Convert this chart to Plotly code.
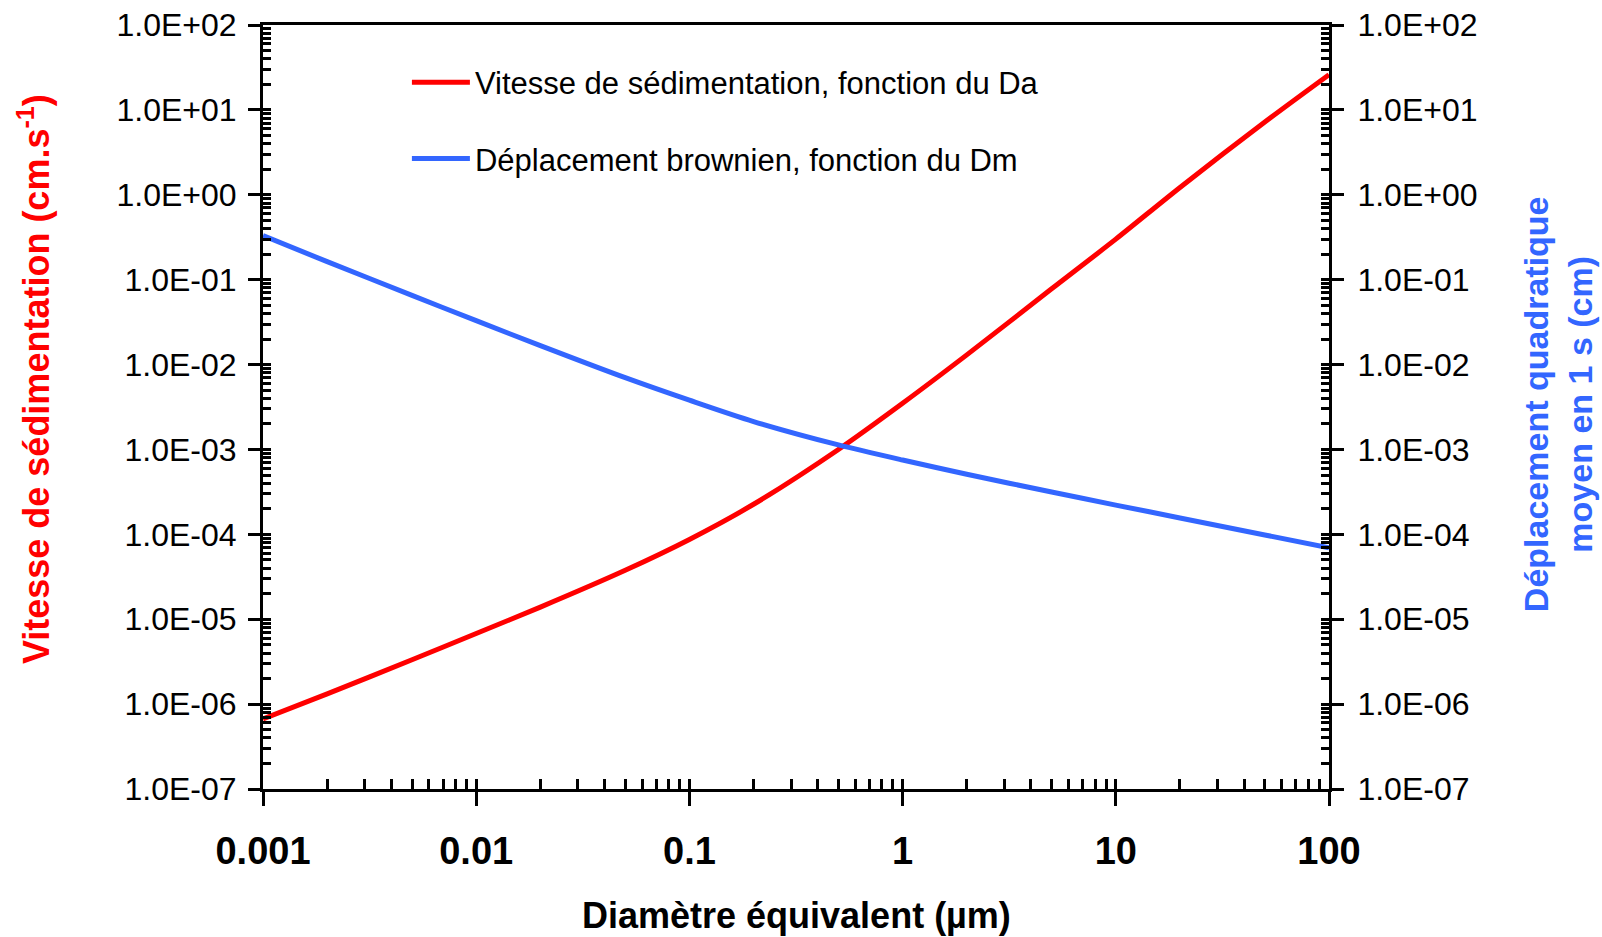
import plotly.graph_objects as go

# Data
diametre = [0.001, 0.002, 0.005, 0.01, 0.02, 0.05, 0.1, 0.2, 0.5, 1, 2, 5, 10, 20, 50, 100]
vitesse = [6.7e-7, 1.32e-6, 3.33e-6, 6.8e-6, 1.39e-5, 3.77e-5, 8.7e-5, 2.26e-4, 1.0e-3,
           3.5e-3, 1.3e-2, 7.8e-2, 0.30, 1.22, 7.2, 26]
deplacement = [0.33, 0.163, 0.0653, 0.0329, 0.0167, 0.0070, 0.0038, 0.00213, 0.00113,
               0.00075, 0.00051, 0.000315, 0.000221, 0.000156, 0.0000984, 0.0000694]

x_tickvals = [0.001, 0.01, 0.1, 1, 10, 100]
x_ticktext = ["0.001", "0.01", "0.1", "1", "10", "100"]
y_tickvals = [1e-7, 1e-6, 1e-5, 1e-4, 1e-3, 1e-2, 1e-1, 1e0, 1e1, 1e2]
y_ticktext = ["1.0E-07", "1.0E-06", "1.0E-05", "1.0E-04", "1.0E-03",
              "1.0E-02", "1.0E-01", "1.0E+00", "1.0E+01", "1.0E+02"]

x_minor = [m * 10 ** e for e in range(-3, 2) for m in range(2, 10)]
y_minor = [m * 10 ** e for e in range(-7, 2) for m in range(2, 10)]

RED = "#FF0000"
BLUE = "#3366FF"
FONT = "Liberation Sans, Arial, sans-serif"

fig = go.Figure()
fig.add_trace(go.Scatter(x=diametre, y=vitesse, mode="lines",
                         line=dict(color=RED, width=5, shape="spline", smoothing=0.8),
                         name="Vitesse de sédimentation, fonction du Da", legendgroup="a",
                         xaxis="x", yaxis="y"))
fig.add_trace(go.Scatter(x=diametre, y=deplacement, mode="lines",
                         line=dict(color=BLUE, width=5, shape="spline", smoothing=0.8),
                         name="Déplacement brownien, fonction du Dm", legendgroup="b",
                         xaxis="x", yaxis="y2"))

common_x = dict(type="log", range=[-3, 2], showgrid=False, zeroline=False, automargin=False)
common_y = dict(type="log", range=[-7, 2], showgrid=False, zeroline=False, automargin=False)

fig.update_layout(
    width=1602, height=937,
    margin=dict(l=263, r=273, t=25, b=148),
    plot_bgcolor="white", paper_bgcolor="white",
    font=dict(family=FONT, color="black"),
    xaxis=dict(**common_x, showline=True, linecolor="black", linewidth=3, mirror=True,
               tickmode="array", tickvals=x_tickvals, ticktext=x_ticktext,
               ticks="outside", ticklen=14, tickwidth=3, tickcolor="black",
               tickfont=dict(size=38, family=FONT, weight="bold"), ticklabelstandoff=12,
               minor=dict(tickmode="array", tickvals=x_minor, ticks="inside", ticklen=10,
                          tickwidth=2.5, tickcolor="black")),
    xaxis2=dict(**common_x, overlaying="x", showline=False, tickmode="array", tickvals=x_tickvals,
                ticks="inside", ticklen=10, tickwidth=3, tickcolor="black", showticklabels=False),
    yaxis=dict(**common_y, showline=True, linecolor="black", linewidth=3,
               tickmode="array", tickvals=y_tickvals, ticktext=y_ticktext,
               ticks="outside", ticklen=12, tickwidth=3, tickcolor="black",
               tickfont=dict(size=32, family=FONT), ticklabelstandoff=5,
               minor=dict(tickmode="array", tickvals=y_minor, ticks="inside", ticklen=8,
                          tickwidth=2.5, tickcolor="black")),
    yaxis2=dict(**common_y, overlaying="y", side="right", showline=True, linecolor="black", linewidth=3,
                tickmode="array", tickvals=y_tickvals, ticktext=y_ticktext,
                ticks="outside", ticklen=12, tickwidth=3, tickcolor="black",
                tickfont=dict(size=32, family=FONT), ticklabelstandoff=7,
                minor=dict(tickmode="array", tickvals=y_minor, ticks="inside", ticklen=8,
                           tickwidth=2.5, tickcolor="black")),
    yaxis3=dict(**common_y, overlaying="y", side="left", showline=False, tickmode="array",
                tickvals=y_tickvals, ticks="inside", ticklen=8, tickwidth=3, tickcolor="black",
                showticklabels=False),
    yaxis4=dict(**common_y, overlaying="y", side="right", showline=False, tickmode="array",
                tickvals=y_tickvals, ticks="inside", ticklen=8, tickwidth=3, tickcolor="black",
                showticklabels=False),
    showlegend=True,
    legend=dict(x=0.135, y=0.96, xanchor="left", yanchor="top", bgcolor="rgba(0,0,0,0)",
                font=dict(size=31, family=FONT), tracegroupgap=33, itemwidth=58),
    annotations=[
        dict(text="Diamètre équivalent (µm)", xref="paper", yref="paper", x=0.5, y=-0.166,
             xanchor="center", yanchor="middle", showarrow=False,
             font=dict(size=36, family=FONT, weight="bold", color="black")),
        dict(text="Vitesse de sédimentation (cm.s<sup>-1</sup>)", xref="paper", yref="paper",
             x=-0.2154, y=0.537, xanchor="center", yanchor="middle", textangle=-90, showarrow=False,
             font=dict(size=36, family=FONT, weight="bold", color=RED)),
        dict(text="Déplacement quadratique<br>moyen en 1 s (cm)", xref="paper", yref="paper",
             x=1.215, y=0.504, xanchor="center", yanchor="middle", textangle=-90, showarrow=False,
             font=dict(size=34, family=FONT, weight="bold", color=BLUE)),
    ],
)

# invisible helper traces so the overlay tick axes are drawn
fig.add_trace(go.Scatter(x=[0.001], y=[1e-7], mode="markers", marker=dict(opacity=0),
                         showlegend=False, hoverinfo="skip", xaxis="x2", yaxis="y3"))
fig.add_trace(go.Scatter(x=[0.001], y=[1e-7], mode="markers", marker=dict(opacity=0),
                         showlegend=False, hoverinfo="skip", xaxis="x2", yaxis="y4"))

fig.write_html("out.html")
